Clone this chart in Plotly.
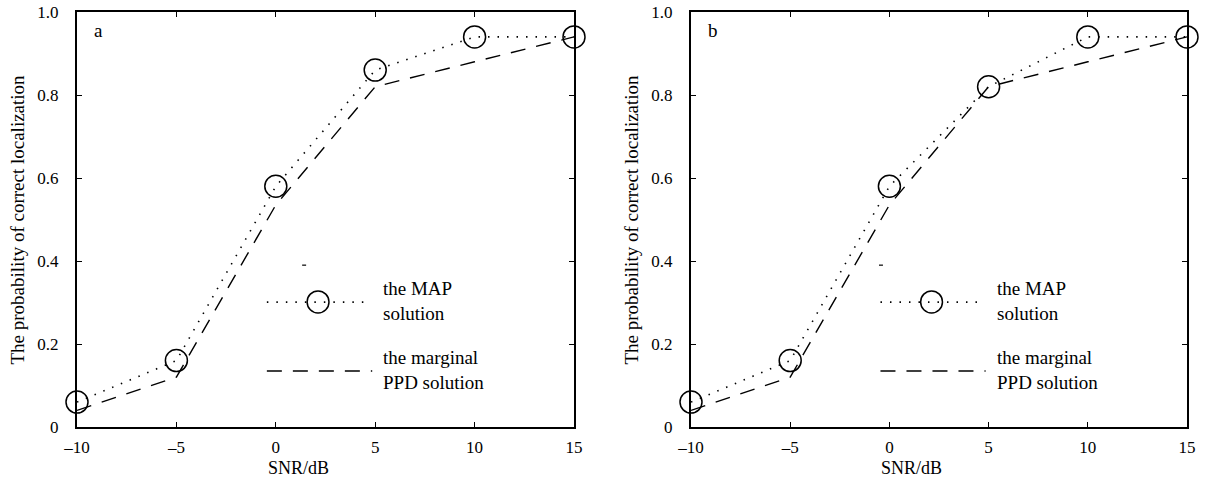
import plotly.graph_objects as go

# SNR values (dB)
snr = [-10, -5, 0, 5, 10, 15]

# Probability of correct localization, panel a
map_a = [0.06, 0.16, 0.58, 0.86, 0.94, 0.94]
ppd_a = [0.04, 0.12, 0.535, 0.82, 0.88, 0.94]

# Probability of correct localization, panel b
map_b = [0.06, 0.16, 0.58, 0.82, 0.94, 0.94]
ppd_b = [0.04, 0.12, 0.535, 0.82, 0.88, 0.94]

x_ticks = [-10, -5, 0, 5, 10, 15]
x_tick_text = ["–10", "–5", "0", "5", "10", "15"]
y_ticks = [0, 0.2, 0.4, 0.6, 0.8, 1.0]
y_tick_text = ["0", "0.2", "0.4", "0.6", "0.8", "1.0"]

panel_labels = ["a", "b"]
x_title = "SNR/dB"
y_title = "The probability of correct localization"
legend_map = "the MAP<br>solution"
legend_ppd = "the marginal<br>PPD solution"

FONT = "Liberation Serif"
DOT = "1.5px,8px"
DASH = "15px,11px"
W, H = 1215, 490

fig = go.Figure()

panels = [(map_a, ppd_a, "x", "y"), (map_b, ppd_b, "x2", "y2")]
for mp, pp, xa, ya in panels:
    fig.add_trace(go.Scatter(
        x=snr, y=pp, xaxis=xa, yaxis=ya, mode="lines",
        line=dict(color="black", width=1.4, dash=DASH),
        showlegend=False, cliponaxis=False))
    fig.add_trace(go.Scatter(
        x=snr, y=mp, xaxis=xa, yaxis=ya, mode="lines+markers",
        line=dict(color="black", width=1.6, dash=DOT),
        marker=dict(symbol="circle-open", size=22, color="black",
                    line=dict(width=1.5, color="black")),
        showlegend=False, cliponaxis=False))

axis_common = dict(
    showline=True, linecolor="black", linewidth=2, mirror="ticks",
    ticks="inside", ticklen=5, tickwidth=1.2, tickcolor="black",
    showgrid=False, zeroline=False, automargin=False,
    tickfont=dict(family=FONT, size=17, color="black"),
)

y_dom = [(H - 427) / H, (H - 12) / H]
x_doms = [[77 / W, 574 / W], [691 / W, 1187 / W]]

layout = dict(
    width=W, height=H,
    margin=dict(l=0, r=0, t=0, b=0),
    paper_bgcolor="white", plot_bgcolor="white",
    font=dict(family=FONT, color="black"),
    showlegend=False,
)

for i, (xk, yk) in enumerate([("xaxis", "yaxis"), ("xaxis2", "yaxis2")]):
    layout[xk] = dict(
        axis_common, domain=x_doms[i], range=[-10, 15],
        tickvals=x_ticks, ticktext=x_tick_text, ticklabelstandoff=4,
        anchor="y" if i == 0 else "y2",
    )
    layout[yk] = dict(
        axis_common, domain=y_dom, range=[0, 1.0],
        tickvals=y_ticks, ticktext=y_tick_text, ticklabelstandoff=13,
        anchor="x" if i == 0 else "x2",
    )

fig.update_layout(**layout)

# Axis titles, in-plot legend keys and panel letters
shapes = []
annotations = []
for i, label in enumerate(panel_labels):
    xr = "x domain" if i == 0 else "x2 domain"
    yr = "y domain" if i == 0 else "y2 domain"
    left_px = x_doms[i][0] * W

    annotations.append(dict(text=x_title, xref=xr, yref="paper", x=0.445, y=(H - 468) / H,
                            xanchor="center", yanchor="middle", showarrow=False,
                            font=dict(family=FONT, size=18, color="black")))
    annotations.append(dict(text=y_title, xref="paper", yref=yr, x=(left_px - 60) / W, y=0.5,
                            xanchor="center", yanchor="middle", showarrow=False, textangle=-90,
                            font=dict(family=FONT, size=19, color="black")))

    stray_x = 0.453 if i == 0 else 0.379
    shapes.append(dict(type="line", xref=xr, yref=yr, x0=stray_x, x1=stray_x + 0.008,
                       y0=0.39, y1=0.39, line=dict(color="black", width=1.2)))
    # dotted key with circle
    shapes.append(dict(type="line", xref=xr, yref=yr, x0=0.382, x1=0.58,
                       y0=0.301, y1=0.301, line=dict(color="black", width=1.6, dash=DOT)))
    shapes.append(dict(type="circle", xref=xr, yref=yr, x0=0.463, x1=0.507,
                       y0=0.275, y1=0.328, line=dict(color="black", width=1.5),
                       fillcolor="rgba(0,0,0,0)"))
    # dashed key
    shapes.append(dict(type="line", xref=xr, yref=yr, x0=0.382, x1=0.594,
                       y0=0.135, y1=0.135, line=dict(color="black", width=1.4, dash=DASH)))
    annotations.append(dict(text=legend_map, xref=xr, yref=yr, x=0.612, y=0.303,
                            xanchor="left", yanchor="middle", showarrow=False, align="left",
                            font=dict(family=FONT, size=19, color="black")))
    annotations.append(dict(text=legend_ppd, xref=xr, yref=yr, x=0.612, y=0.137,
                            xanchor="left", yanchor="middle", showarrow=False, align="left",
                            font=dict(family=FONT, size=19, color="black")))
    annotations.append(dict(text=label, xref=xr, yref=yr, x=0.03, y=0.955,
                            xanchor="left", yanchor="middle", showarrow=False,
                            font=dict(family=FONT, size=19, color="black")))

fig.update_layout(shapes=shapes, annotations=annotations)

fig.write_html("out.html")
